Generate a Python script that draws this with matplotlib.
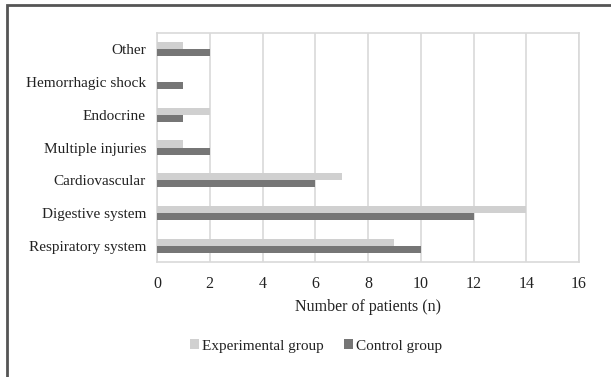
import matplotlib
matplotlib.use("Agg")
import matplotlib.pyplot as plt
import numpy as np
from matplotlib.patches import Rectangle

categories = ["Respiratory system", "Digestive system", "Cardiovascular",
              "Multiple injuries", "Endocrine", "Hemorrhagic shock", "Other"]
experimental = [9, 14, 7, 1, 2, 0, 1]
control = [10, 12, 6, 2, 1, 1, 2]
xticks = [0, 2, 4, 6, 8, 10, 12, 14, 16]

plt.rcParams['font.family'] = ['Liberation Serif', 'DejaVu Serif']

fig = plt.figure(figsize=(6.11, 3.77), dpi=100)
fig.patch.set_facecolor('white')
ax = fig.add_axes([157/611, 1-262/377, (579-157)/611, (262-33)/377])

y = np.arange(len(categories))
h = 0.215
light = '#d0d0d0'
dark = '#767676'
ax.barh(y + h/2, experimental, height=h, color=light, label='Experimental group', zorder=3)
ax.barh(y - h/2, control, height=h, color=dark, label='Control group', zorder=3)

ax.set_xlim(0, 16)
ax.set_ylim(-0.5, len(categories) - 0.5)
ax.set_xticks(xticks)
ax.set_xticklabels([str(t) for t in xticks], fontsize=11.5, color='#222222')
ax.set_yticks(y)
ax.set_yticklabels(categories, fontsize=11, color='#222222')
ax.tick_params(axis='both', length=0, pad=8)
ax.tick_params(axis='x', pad=10)
ax.xaxis.grid(True, color='#d9d9d9', linewidth=1.2, zorder=0)
ax.set_axisbelow(True)
for s in ax.spines.values():
    s.set_color('#d9d9d9')
    s.set_linewidth(1.2)
ax.set_xlabel('Number of patients (n)', fontsize=11.5, color='#222222', labelpad=5)

leg = fig.legend(loc='center', bbox_to_anchor=(316/611, 1-346/377), ncol=2,
                 frameon=False, fontsize=11, handlelength=0.6, handleheight=0.6,
                 handletextpad=0.2, columnspacing=1.3)
for t in leg.get_texts():
    t.set_color('#222222')

# outer frame
fig.patches.append(Rectangle((7.5/611, -0.1), 1.2, 1.1 - 4.5/377, transform=fig.transFigure,
                             fill=False, edgecolor='#555555', linewidth=2, zorder=10))

fig.savefig('out.png', dpi=100, facecolor='white')
